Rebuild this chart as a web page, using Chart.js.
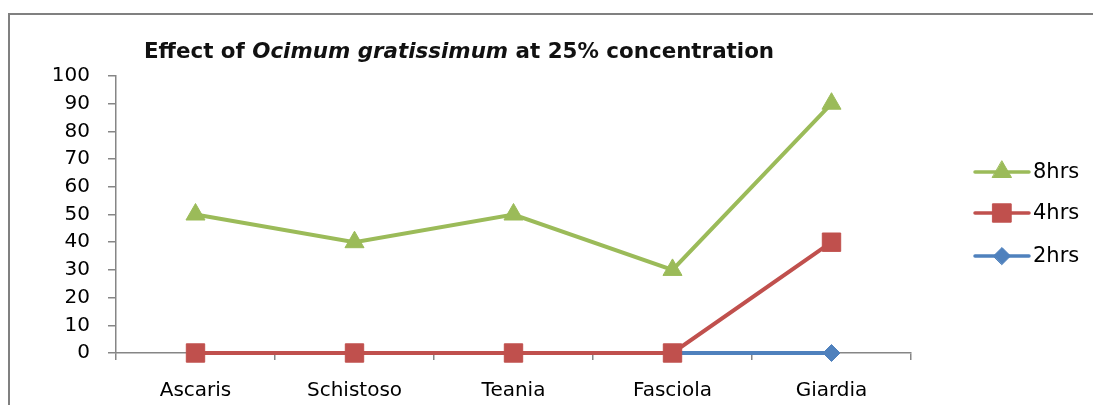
<!DOCTYPE html>
<html>
<head>
<meta charset="utf-8">
<script src="https://cdn.jsdelivr.net/npm/chart.js@4.4.1/dist/chart.umd.min.js"></script>
<style>
  html, body { margin: 0; padding: 0; background: #fff; }
  #wrap { width: 1093px; height: 405px; position: relative; }
</style>
</head>
<body>
<div id="wrap"><canvas id="c" width="1093" height="405"></canvas></div>
<script>
const categories = ['Ascaris', 'Schistoso', 'Teania', 'Fasciola', 'Giardia'];
const seriesNames = ['8hrs', '4hrs', '2hrs'];
const hrs8 = [50, 40, 50, 30, 90];
const hrs4 = [0, 0, 0, 0, 40];
const hrs2 = [0, 0, 0, 0, 0];
const yTicks = [0, 10, 20, 30, 40, 50, 60, 70, 80, 90, 100];
const titleParts = [
  { text: 'Effect of ', italic: false },
  { text: 'Ocimum gratissimum', italic: true },
  { text: ' at 25% concentration', italic: false }
];

const FONT = "'DejaVu Sans', sans-serif";
const COLORS = ['#9BBB59', '#C0504D', '#4F81BD'];
const STYLES = ['triangle', 'rect', 'rectRot'];
const RADII = [11, 13, 8.5];

const frame = {
  id: 'frame',
  beforeDraw(chart) {
    const ctx = chart.ctx;
    ctx.save();
    ctx.strokeStyle = '#808080';
    ctx.lineWidth = 2;
    ctx.beginPath();
    ctx.moveTo(9, 405);
    ctx.lineTo(9, 14);
    ctx.lineTo(1093, 14);
    ctx.stroke();
    ctx.restore();
  }
};

const titlePlugin = {
  id: 'mixedTitle',
  afterDraw(chart) {
    const ctx = chart.ctx;
    ctx.save();
    ctx.fillStyle = '#111';
    ctx.textBaseline = 'alphabetic';
    let x = 144;
    const y = 58;
    titleParts.forEach(p => {
      ctx.font = (p.italic ? 'italic ' : '') + 'bold 21.4px ' + FONT;
      ctx.fillText(p.text, x, y);
      x += ctx.measureText(p.text).width;
    });
    ctx.restore();
  }
};

const legendPlugin = {
  id: 'sideLegend',
  afterDraw(chart) {
    const ctx = chart.ctx;
    const rows = [172, 213, 256];
    chart.data.datasets.forEach((ds, i) => {
      const y = rows[i];
      ctx.save();
      ctx.strokeStyle = ds.borderColor;
      ctx.lineWidth = 3.5;
      ctx.lineCap = 'round';
      ctx.beginPath();
      ctx.moveTo(975, y);
      ctx.lineTo(1029, y);
      ctx.stroke();
      ctx.fillStyle = ds.pointBackgroundColor;
      ctx.strokeStyle = ds.pointBackgroundColor;
      ctx.lineWidth = 1;
      Chart.helpers.drawPoint(ctx, { pointStyle: ds.pointStyle, radius: ds.pointRadius, borderWidth: 1, rotation: 0 }, 1002, y);
      ctx.fillStyle = '#000';
      ctx.font = '21px ' + FONT;
      ctx.textBaseline = 'middle';
      ctx.fillText(ds.label, 1033, y + 1);
      ctx.restore();
    });
  }
};

const values = [hrs8, hrs4, hrs2];
const datasets = seriesNames.map((name, i) => ({
  label: name,
  data: values[i],
  borderColor: COLORS[i],
  backgroundColor: COLORS[i],
  pointBackgroundColor: COLORS[i],
  pointBorderColor: COLORS[i],
  pointStyle: STYLES[i],
  pointRadius: RADII[i],
  pointBorderWidth: 1,
  borderWidth: 4,
  tension: 0,
  clip: false
}));

new Chart(document.getElementById('c'), {
  type: 'line',
  data: { labels: categories, datasets },
  options: {
    responsive: false,
    animation: false,
    devicePixelRatio: 1,
    layout: { padding: { left: 0, top: 76, right: 182, bottom: 0 } },
    plugins: { legend: { display: false }, title: { display: false }, tooltip: { enabled: false } },
    scales: {
      x: {
        type: 'category',
        offset: true,
        grid: { offset: true, drawOnChartArea: false, drawTicks: true, tickLength: 7, color: '#868686', lineWidth: 1.5 },
        border: { display: true, color: '#868686', width: 1.5 },
        ticks: { color: '#000', font: { family: FONT, size: 20 }, padding: 19, maxRotation: 0, autoSkip: false },
        afterFit(s) { s.height = 52; }
      },
      y: {
        min: 0, max: 100,
        afterBuildTicks(s) { s.ticks = yTicks.map(v => ({ value: v })); },
        grid: { drawOnChartArea: false, drawTicks: true, tickLength: 8, color: '#868686', lineWidth: 1.5 },
        border: { display: true, color: '#868686', width: 1.5 },
        ticks: { color: '#000', font: { family: FONT, size: 20 }, padding: 18 },
        afterFit(s) { s.width = 116; }
      }
    }
  },
  plugins: [frame, titlePlugin, legendPlugin]
});
</script>
</body>
</html>
